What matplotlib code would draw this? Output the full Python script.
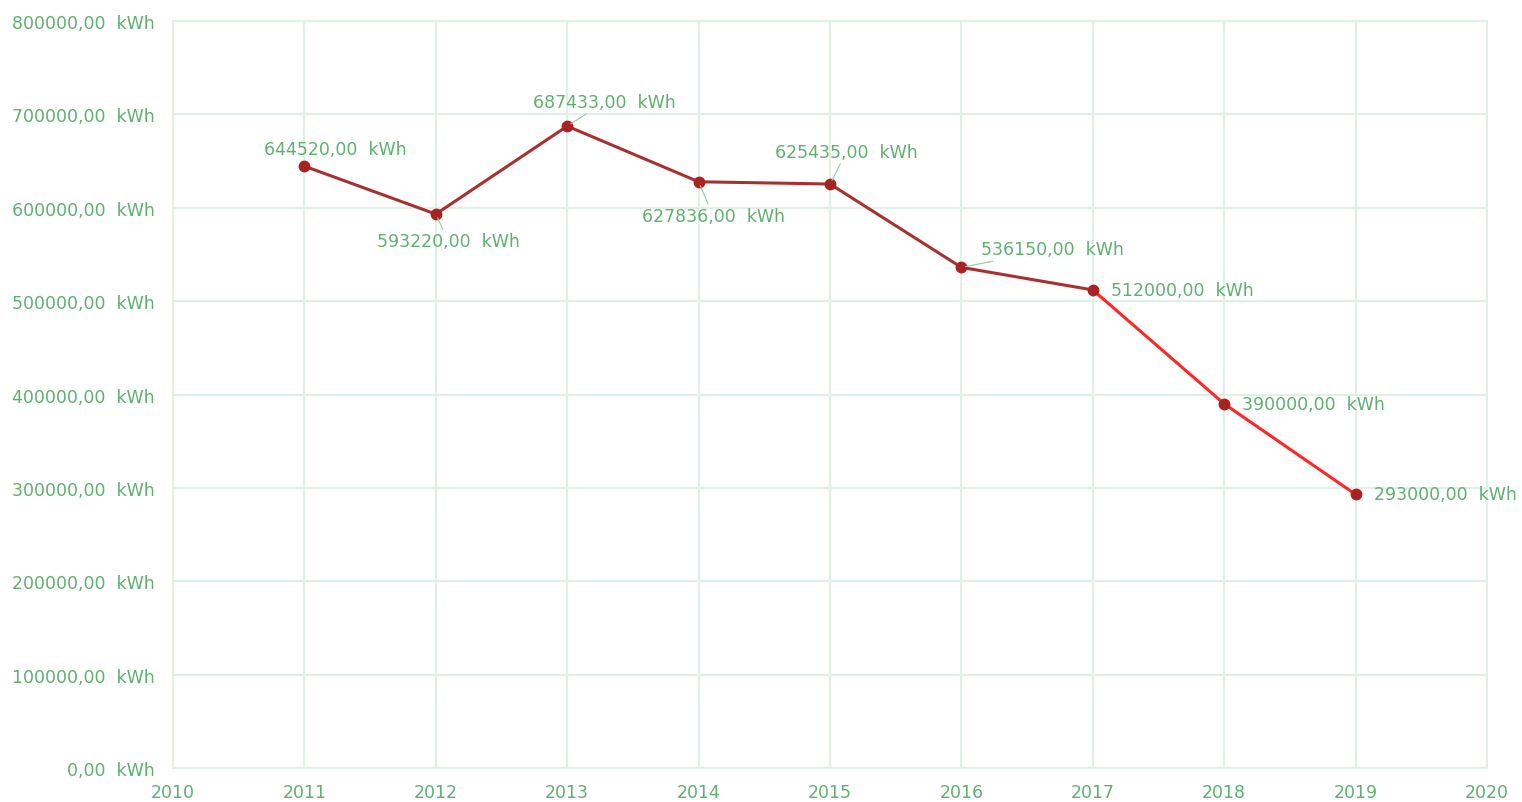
import matplotlib.pyplot as plt
from matplotlib.ticker import FuncFormatter

years = [2011, 2012, 2013, 2014, 2015, 2016, 2017, 2018, 2019]
energy = [644520, 593220, 687433, 627836, 625435, 536150, 512000, 390000, 293000]
split = 6  # index of 2017: from here the line is drawn bright red

# label offsets (pixels) of each value label and whether it has a leader line
label_offsets = [(-40, 17), (-59, -27), (-34, 24), (-57, -34), (-55, 32),
                 (20, 18), (18, 0), (18, 0), (18, 0)]
leaders = [False, True, True, True, True, True, False, False, False]

text_green = "#5fb070"
grid_green = "#dff1e4"

plt.rcParams["font.family"] = ["DejaVu Sans"]

fig = plt.figure(figsize=(15.22, 8.03), dpi=100)
ax = fig.add_axes([0.1137, 0.0423, 0.977 - 0.1137, 0.9726 - 0.0423])

ax.plot(years[:split + 1], energy[:split + 1], color="#a83030", lw=2.2, zorder=3)
ax.plot(years[split:], energy[split:], color="#ff2626", lw=2.2, zorder=3)
ax.plot(years, energy, "o", color="#a82222", ms=7.5, zorder=4)


def kwh(v):
    return f"{v:.2f}".replace(".", ",") + "  kWh"


for x, y, (dx, dy), lead in zip(years, energy, label_offsets, leaders):
    arrow = dict(arrowstyle="-", color="#8fcf9c", lw=0.8, shrinkA=0, shrinkB=3) if lead else None
    ax.annotate(kwh(y), (x, y), xytext=(dx, dy), textcoords="offset pixels",
                ha="left", va="center", fontsize=12.5, color=text_green,
                arrowprops=arrow, zorder=5)

ax.set_xlim(2010, 2020)
ax.set_ylim(0, 800000)
ax.set_xticks(range(2010, 2021))
ax.set_yticks(range(0, 800001, 100000))
ax.yaxis.set_major_formatter(FuncFormatter(lambda v, p: kwh(v)))

ax.grid(True, color=grid_green, lw=1.5)
ax.set_axisbelow(True)
for s in ax.spines.values():
    s.set_color(grid_green)
    s.set_linewidth(1.5)
ax.tick_params(length=0, colors=text_green, labelsize=12.5)
ax.tick_params(axis="y", pad=13)
ax.tick_params(axis="x", pad=11)

fig.savefig("out.png", dpi=100)
